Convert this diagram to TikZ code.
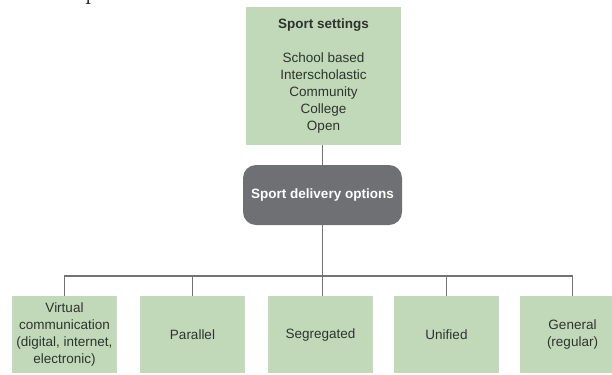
\documentclass[tikz,border=0pt]{standalone}
\usepackage{fontspec}
\newfontfamily\diagfont{Liberation Sans}
\definecolor{boxgreen}{RGB}{193,217,185}
\definecolor{hubgray}{RGB}{111,112,116}
\definecolor{linegray}{RGB}{115,115,115}
\definecolor{labelink}{RGB}{45,52,45}
\tikzset{
  greenbox/.style={draw=none, fill=boxgreen, inner sep=0pt, align=center,
    text=labelink, font=\diagfont\fontsize{13.5bp}{17bp}\selectfont},
  leafbox/.style={greenbox, minimum width=105bp, minimum height=77bp},
  hubbox/.style={fill=hubgray, rounded corners=13bp, minimum width=159bp,
    minimum height=60bp, inner sep=0pt, text=white,
    font=\diagfont\bfseries\fontsize{13.5bp}{17bp}\selectfont},
  wire/.style={draw=linegray, line width=1.5bp}
}
\begin{document}
\begin{tikzpicture}[x=1bp, y=-1bp]
\useasboundingbox (0,0) rectangle (612,374);
\begin{scope}
\clip (0,0) rectangle (612,374);

% descender of a letter from the line above the figure
\node[anchor=base west, inner sep=0pt, font=\fontsize{25bp}{30bp}\selectfont] (frag) at (85,-1) {p};

% settings box
\node[greenbox, minimum width=155bp, minimum height=138bp] (settings) at (323.5,76)
  {\textbf{Sport settings}\\[17bp]School based\\Interscholastic\\Community\\College\\Open};

% central hub
\node[hubbox] (delivery) at (322.5,195) {Sport delivery options};

% delivery options
\node[leafbox] (virtual)  at (64.5,334.5)  {Virtual\\communication\\(digital, internet,\\electronic)};
\node[leafbox] (parallel) at (192.5,334.5) {Parallel};
\node[leafbox] (seg)      at (320.5,334.5) {Segregated};
\node[leafbox] (unified)  at (446.5,334.5) {Unified};
\node[leafbox] (general)  at (572.5,334.5) {General\\(regular)};

% connectors
\coordinate (bus) at (0,276);
\draw[wire] (settings.south -| delivery.north) -- (delivery.north);
\draw[wire] (delivery.south) -- (delivery.south |- seg.north);
\draw[wire] (virtual.north) -- (virtual.north |- bus) -- (general.north |- bus) -- (general.north);
\draw[wire] (parallel.north) -- (parallel.north |- bus);
\draw[wire] (unified.north) -- (unified.north |- bus);
\end{scope}
\end{tikzpicture}
\end{document}
